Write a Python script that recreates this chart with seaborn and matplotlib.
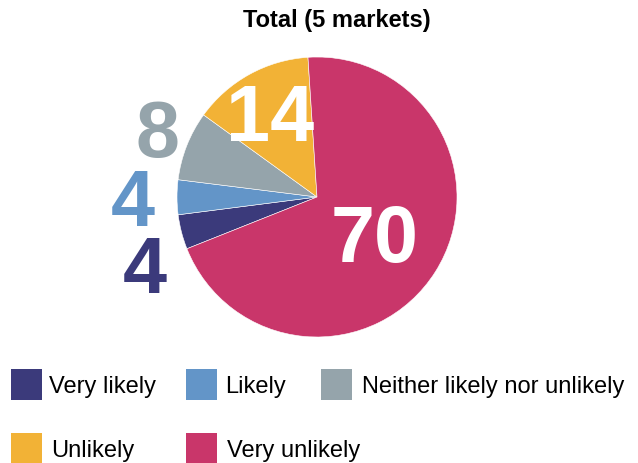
import numpy as np
import matplotlib
matplotlib.use("Agg")
import matplotlib.pyplot as plt
from matplotlib.patches import Rectangle
import seaborn as sns

# données
categories = ["Very likely", "Likely", "Neither likely nor unlikely", "Unlikely", "Very unlikely"]
values = [4, 4, 8, 14, 70]
colors = ["#3b3a7b", "#6395c8", "#95a4ab", "#f2b236", "#c9366a"]
title = "Total (5 markets)"

sns.set_theme(style="white")
plt.rcParams['font.family'] = ['Liberation Sans', 'DejaVu Sans']

W, H = 638, 463
fig = plt.figure(figsize=(W / 100, H / 100), dpi=100)
ax = fig.add_axes([0, 0, 1, 1])

cx, cy, R = 317, H - 197, 140
wedges, _ = ax.pie(values, colors=colors, startangle=201.7, counterclock=False,
                   radius=R, center=(cx, cy),
                   wedgeprops=dict(edgecolor="white", linewidth=0.4))
ax.set_xlim(0, W)
ax.set_ylim(0, H)
ax.set_aspect("equal")
ax.axis("off")

# vị trí nhãn: khoảng cách theo bán kính + dịch góc
label_dist = [1.32, 1.314, 1.243, 0.69, 0.49]
label_shift = [7.1, 0, -1.7, 0, 0]
label_inside = [False, False, False, True, True]
num_size = 57
digit_h = 0.716 * num_size * 100 / 72
for w, v, col, d, s, inside in zip(wedges, values, colors, label_dist, label_shift, label_inside):
    ang = np.deg2rad((w.theta1 + w.theta2) / 2 + s)
    x = cx + R * d * np.cos(ang)
    y = cy + R * d * np.sin(ang)
    ax.text(x, y - digit_h / 2, str(v), ha="center", va="baseline", fontsize=num_size,
            fontweight="bold", color="white" if inside else col)

fig.text(337 / W, 1 - 27 / H, title, ha="center", va="baseline",
         fontsize=17, fontweight="bold", color="black")

# chú thích thủ công (2 hàng)
box_x = [11, 186, 321, 11, 186]
box_y = [369, 369, 369, 433, 433]
text_x = [49, 225, 362, 51, 227]
for lab, col, bx, by, tx in zip(categories, colors, box_x, box_y, text_x):
    fig.patches.append(Rectangle((bx / W, 1 - (by + 31) / H), 31 / W, 31 / H,
                                 transform=fig.transFigure, facecolor=col, edgecolor="none"))
    fig.text(tx / W, 1 - (by + 24.5) / H, lab, ha="left", va="baseline",
             fontsize=17, color="black")

plt.savefig("out.png", dpi=100)
plt.close()
